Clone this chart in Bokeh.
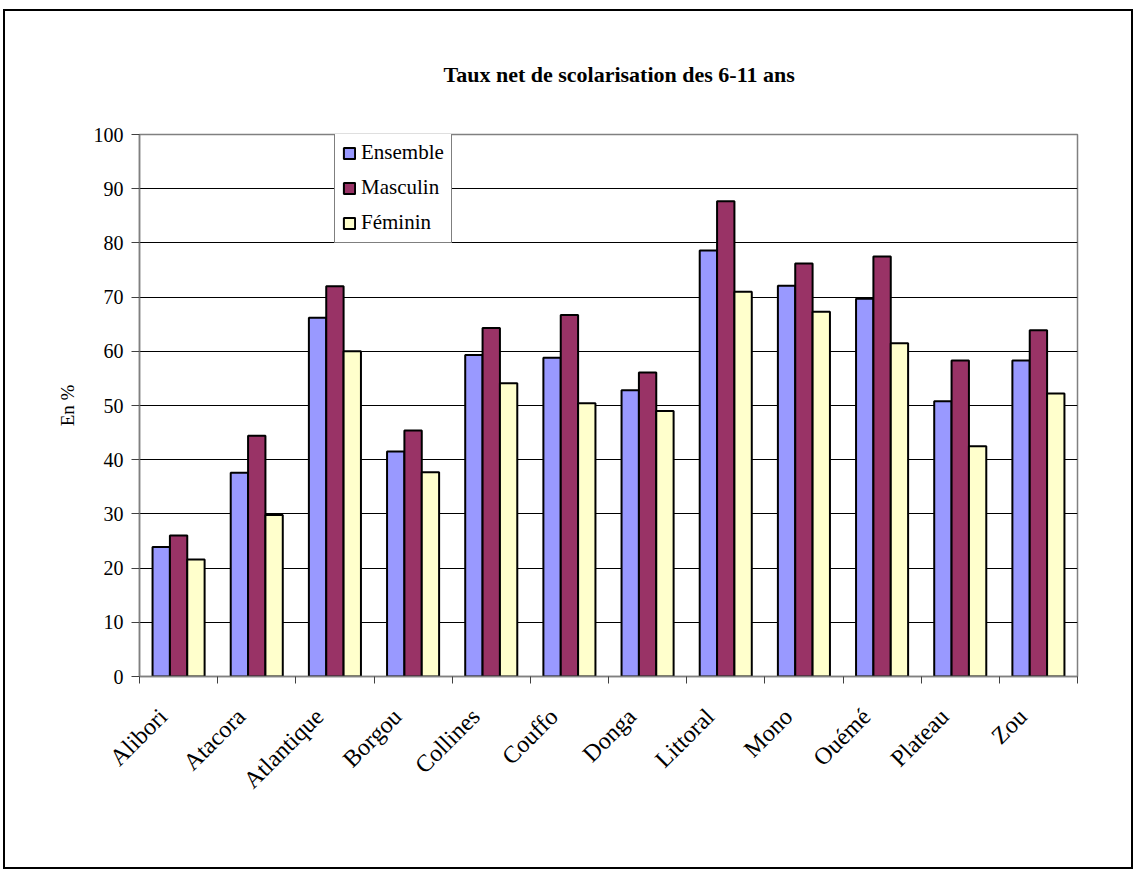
import math
from bokeh.plotting import figure
from bokeh.models import (Range1d, FixedTicker, Legend, LegendItem, ColumnDataSource)
from bokeh.embed import file_html
from bokeh.resources import INLINE

regions = ["Alibori", "Atacora", "Atlantique", "Borgou", "Collines", "Couffo",
           "Donga", "Littoral", "Mono", "Ouémé", "Plateau", "Zou"]
ensemble = [23.9, 37.6, 66.2, 41.5, 59.3, 58.8, 52.8, 78.6, 72.1, 69.7, 50.8, 58.3]
masculin = [26.0, 44.4, 72.0, 45.4, 64.3, 66.7, 56.1, 87.7, 76.2, 77.5, 58.3, 63.9]
feminin = [21.6, 29.8, 60.0, 37.7, 54.1, 50.4, 49.0, 71.0, 67.3, 61.5, 42.5, 52.2]
series_names = ["Ensemble", "Masculin", "Féminin"]
colors = ["#9999FF", "#993366", "#FFFFCC"]

FONT = "Liberation Serif"
n = len(regions)
centers = [i + 0.5 for i in range(n)]
label_pos = [c - 0.2 for c in centers]
bw = 0.222

p = figure(width=1130, height=860, output_backend="svg", toolbar_location=None,
           x_range=Range1d(0, n), y_range=Range1d(0, 100),
           min_border_left=134, min_border_right=58, min_border_top=123,
           min_border_bottom=195)
p.styles = {"border": "2px solid black", "margin-left": "3px", "margin-top": "9px"}

p.title.text = "Taux net de scolarisation des 6-11 ans"
p.title.align = "left"
p.title.offset = 304
p.title.text_font = FONT
p.title.text_font_size = "22px"
p.title.text_font_style = "bold"
p.title.text_color = "#000000"
p.title.standoff = 96

p.outline_line_color = "#808080"
p.outline_line_width = 1.5
p.xgrid.visible = False
p.ygrid.ticker = FixedTicker(ticks=list(range(0, 101, 10)))
p.ygrid.grid_line_color = "#000000"
p.ygrid.grid_line_width = 1

# y axis
p.yaxis.ticker = FixedTicker(ticks=list(range(0, 101, 10)))
p.yaxis.axis_label = "En %"
p.yaxis.axis_label_text_font = FONT
p.yaxis.axis_label_text_font_style = "normal"
p.yaxis.axis_label_text_font_size = "19px"
p.yaxis.axis_label_text_color = "#000000"
p.yaxis.axis_label_standoff = 13
p.yaxis.major_label_text_font = FONT
p.yaxis.major_label_text_font_size = "20px"
p.yaxis.major_label_text_color = "#000000"
p.yaxis.major_tick_out = 8
p.yaxis.major_tick_in = 0
p.yaxis.minor_tick_line_color = None
p.yaxis.axis_line_color = "#808080"
p.yaxis.axis_line_width = 1.5
p.yaxis.major_tick_line_color = "#404040"
p.yaxis.major_label_standoff = 8

# x axis: labels near centers, ticks at boundaries (minor ticks)
p.xaxis.ticker = FixedTicker(ticks=label_pos, minor_ticks=list(range(0, n + 1)))
p.xaxis.major_label_overrides = {c: r for c, r in zip(label_pos, regions)}
p.xaxis.major_label_orientation = math.pi / 4
p.xaxis.major_label_text_font = FONT
p.xaxis.major_label_text_font_size = "24px"
p.xaxis.major_label_text_color = "#000000"
p.xaxis.major_tick_line_color = None
p.xaxis.major_tick_out = 0
p.xaxis.minor_tick_out = 7
p.xaxis.minor_tick_in = 0
p.xaxis.minor_tick_line_color = "#404040"
p.xaxis.axis_line_color = "#808080"
p.xaxis.axis_line_width = 1.5
p.xaxis.major_label_standoff = 29

items = []
for k, (name, vals) in enumerate(zip(series_names, [ensemble, masculin, feminin])):
    src = ColumnDataSource(dict(x=[c + (k - 1) * bw for c in centers], top=vals))
    r = p.vbar(x="x", top="top", width=bw, bottom=0, source=src,
               fill_color=colors[k], line_color="#000000", line_width=2)
    items.append(LegendItem(label=name, renderers=[r]))

legend = Legend(items=items, location=(195, 433))
legend.label_text_font = FONT
legend.label_text_font_size = "21px"
legend.label_text_color = "#000000"
legend.glyph_width = 14
legend.glyph_height = 14
legend.label_height = 21
legend.spacing = 10
legend.padding = 7
legend.margin = 0
legend.label_standoff = 5
legend.border_line_color = "#000000"
legend.border_line_width = 1.2
legend.background_fill_alpha = 1
p.add_layout(legend, "center")

open("out.html", "w").write(file_html(p, INLINE))
